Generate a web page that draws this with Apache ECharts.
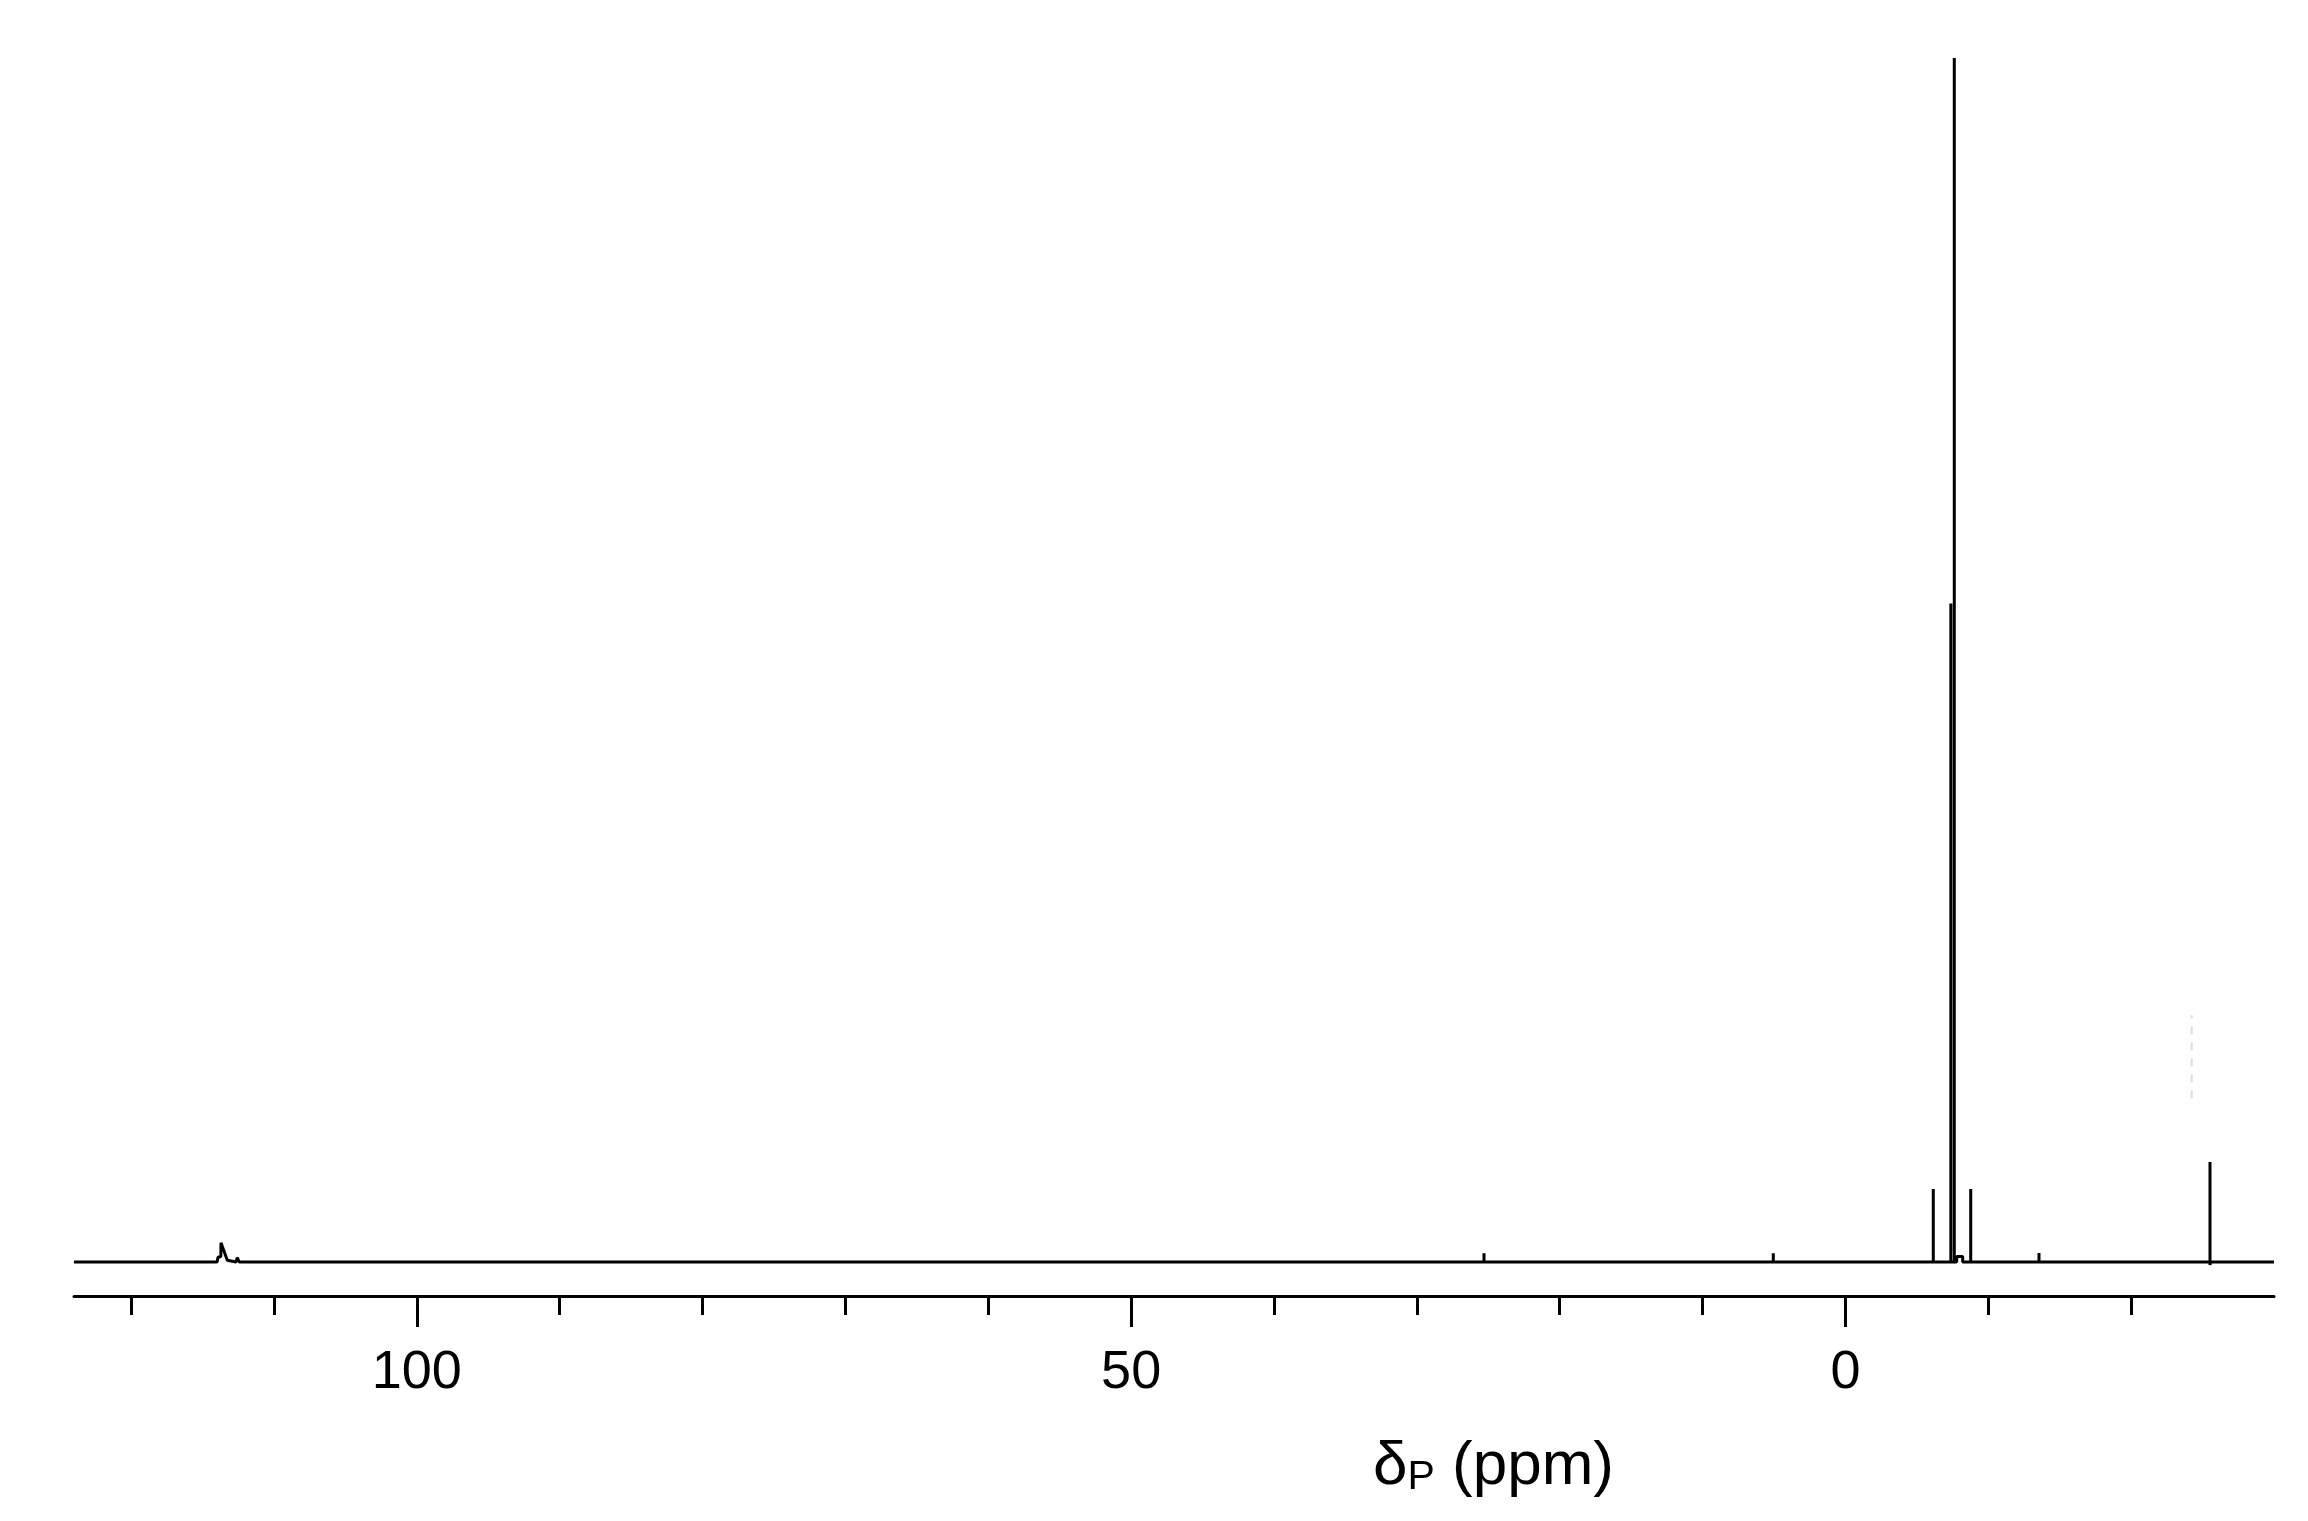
<!DOCTYPE html>
<html>
<head>
<meta charset="utf-8">
<script src="https://cdn.jsdelivr.net/npm/echarts@6/dist/echarts.min.js"></script>
<style>
html,body{margin:0;padding:0;background:#fff;}
#chart{width:2308px;height:1521px;}
</style>
</head>
<body>
<div id="chart"></div>
<script>
// 31P NMR spectrum, chemical shift (ppm) vs relative intensity (% of tallest line)
const spectrumPpm = [
  124.0, 113.98, 113.92, 113.72, 113.71, 113.27, 112.66, 112.57, 112.43,
  25.3, 25.3, 25.3,
  5.05, 5.05, 5.05,
  -6.15, -6.15, -6.15,
  -7.38, -7.38, -7.38,
  -7.62, -7.62, -7.62,
  -7.79, -7.79, -8.21, -8.21,
  -8.77, -8.77, -8.77,
  -13.55, -13.55, -13.55,
  -25.52, -25.52, -25.52, -25.56,
  -30.0
];
const spectrumIntensity = [
  0, 0, 0.4, 0.45, 1.6, 0.15, 0, 0.37, 0,
  0, 0.72, 0,
  0, 0.72, 0,
  0, 6.06, 0,
  0, 54.7, 0,
  0, 100, 0,
  0, 0.45, 0.45, 0,
  0, 6.06, 0,
  0, 0.75, 0,
  0, 8.3, -0.25, 0,
  0
];
// faint dashed artefact above the -25.5 ppm line
const artefactPpm = [-24.24, -24.24];
const artefactIntensity = [13.6, 20.5];

const axisMin = -30, axisMax = 124;
const majorTicks = [100, 50, 0];
const minorTicks = [120, 110, 90, 80, 70, 60, 40, 30, 20, 10, -10, -20];
const yMin = -2.824, yMax = 100;

const spectrum = spectrumPpm.map((p, i) => [p, spectrumIntensity[i]]);
const artefact = artefactPpm.map((p, i) => [p, artefactIntensity[i]]);

const chart = echarts.init(document.getElementById('chart'), null, {renderer: 'canvas'});
const font = "'Liberation Sans', Arial, Helvetica, sans-serif";
chart.setOption({
  animation: false,
  backgroundColor: '#ffffff',
  title: {
    text: '{d|δ}{s|P}{d| (ppm)}',
    left: 1373,
    top: 1426,
    padding: 0,
    textStyle: {
      fontWeight: 'normal',
      rich: {
        d: {fontSize: 62, lineHeight: 72, fontFamily: font, fontWeight: 'normal', color: '#000', verticalAlign: 'bottom'},
        s: {fontSize: 41, lineHeight: 28, fontFamily: font, fontWeight: 'normal', color: '#000', verticalAlign: 'bottom'}
      }
    }
  },
  grid: {left: 74, right: 34, top: 58, bottom: 225, containLabel: false},
  xAxis: [
    {
      type: 'value', min: axisMin, max: axisMax, inverse: true, position: 'bottom',
      splitLine: {show: false},
      axisLine: {show: true, onZero: false, lineStyle: {color: '#000', width: 3}},
      axisTick: {show: true, inside: false, length: 31, customValues: majorTicks, lineStyle: {color: '#000', width: 3}},
      axisLabel: {show: true, customValues: majorTicks, margin: 50, fontSize: 54, fontFamily: font, color: '#000'}
    },
    {
      type: 'value', min: axisMin, max: axisMax, inverse: true, position: 'bottom',
      splitLine: {show: false},
      axisLine: {show: false, onZero: false},
      axisTick: {show: true, inside: false, length: 19, customValues: minorTicks, lineStyle: {color: '#000', width: 3}},
      axisLabel: {show: false}
    }
  ],
  yAxis: {
    type: 'value', min: yMin, max: yMax, show: false,
    splitLine: {show: false}
  },
  series: [
    {
      type: 'line', xAxisIndex: 0, data: spectrum, symbol: 'none', showSymbol: false,
      clip: false, silent: true,
      lineStyle: {color: '#000', width: 3, join: 'bevel'}
    },
    {
      type: 'line', xAxisIndex: 0, data: artefact, symbol: 'none', showSymbol: false,
      clip: false, silent: true,
      lineStyle: {color: '#dcdcdc', width: 2, type: [8, 8]}
    }
  ]
});
</script>
</body>
</html>
